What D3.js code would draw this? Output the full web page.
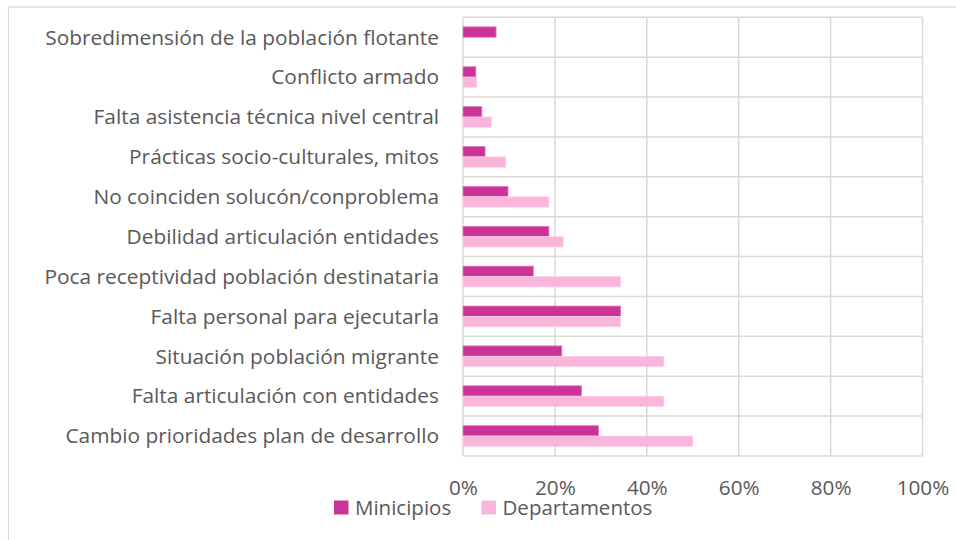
<!DOCTYPE html>
<html>
<head>
<meta charset="utf-8">
<script src="https://cdn.jsdelivr.net/npm/d3@7"></script>
<style>
  html, body { margin: 0; padding: 0; background: #ffffff; }
  svg { display: block; }
  text { font-family: "Open Sans", "Noto Sans", sans-serif; fill: #595959; }
</style>
</head>
<body>
<svg id="chart" width="956" height="540"></svg>
<script>
// Problem categories, listed top to bottom
const categories = [
  "Sobredimensión de la población flotante",
  "Conflicto armado",
  "Falta asistencia técnica nivel central",
  "Prácticas socio-culturales, mitos",
  "No coinciden solucón/conproblema",
  "Debilidad articulación entidades ",
  "Poca receptividad población destinataria",
  "Falta personal para ejecutarla",
  "Situación población migrante",
  "Falta articulación con entidades",
  "Cambio prioridades plan de desarrollo"
];

// Share of respondents per category (fraction of 1)
const municipios    = [0.072, 0.028, 0.041, 0.048, 0.098, 0.187, 0.153, 0.343, 0.215, 0.258, 0.295];
const departamentos = [0.000, 0.030, 0.062, 0.093, 0.187, 0.218, 0.343, 0.343, 0.437, 0.437, 0.500];

const seriesNames  = ["Minicipios", "Departamentos"];
const seriesColors = ["#CC3399", "#F9B5DA"];
const seriesStroke = ["#E07BBF", "#FCD3EA"];

const xTickValues = [0, 0.2, 0.4, 0.6, 0.8, 1.0];
const xTickLabels = ["0%", "20%", "40%", "60%", "80%", "100%"];

const svg = d3.select("#chart");

// Outer chart frame (runs off the right and bottom edges)
svg.append("rect")
  .attr("x", 8.5).attr("y", 7)
  .attr("width", 1100).attr("height", 700)
  .attr("fill", "none")
  .attr("stroke", "#D9D9D9")
  .attr("stroke-width", 1.2);

const plot = { left: 463, right: 922.5, top: 17.3, bottom: 456 };

const x = d3.scaleLinear().domain([0, 1]).range([plot.left, plot.right]);
const y = d3.scaleBand().domain(categories).range([plot.top, plot.bottom]).paddingInner(0);

// Two bars per category, centred in the band
const groupH = y.bandwidth() * 0.52;
const ySub = d3.scaleBand().domain(seriesNames).range([0, groupH]);

const grid = svg.append("g").attr("stroke", "#D9D9D9").attr("stroke-width", 1.5);

// Vertical gridlines at each tick
grid.selectAll("line.v").data(xTickValues).join("line")
  .attr("class", "v")
  .attr("x1", d => x(d)).attr("x2", d => x(d))
  .attr("y1", plot.top).attr("y2", plot.bottom);

// Horizontal gridlines at category boundaries
const boundaries = categories.map(c => y(c)).concat([plot.bottom]);
grid.selectAll("line.h").data(boundaries).join("line")
  .attr("class", "h")
  .attr("x1", plot.left).attr("x2", plot.right)
  .attr("y1", d => d).attr("y2", d => d);

// Bars
const rows = categories.map((c, i) => ({ cat: c, values: [municipios[i], departamentos[i]] }));
const groups = svg.append("g").selectAll("g").data(rows).join("g")
  .attr("transform", d => `translate(0,${y(d.cat) + (y.bandwidth() - groupH) / 2})`);

groups.selectAll("rect")
  .data(d => d.values.map((v, k) => ({ v, k })).filter(e => e.v > 0))
  .join("rect")
  .attr("x", x(0))
  .attr("y", e => ySub(seriesNames[e.k]))
  .attr("width", e => x(e.v) - x(0))
  .attr("height", ySub.bandwidth())
  .attr("fill", e => seriesColors[e.k])
  .attr("stroke", e => seriesStroke[e.k])
  .attr("stroke-width", 0.8);

// Fit label font size so the longest category label spans its measured width
function fitSize(str, targetWidth, family) {
  const t = svg.append("text").style("font-size", "20px").style("font-family", family).text(str);
  const w = t.node().getComputedTextLength();
  t.remove();
  return 20 * targetWidth / w;
}
const catSize = fitSize("Sobredimensión de la población flotante", 394, "Open Sans");

// Category axis labels
const yAxis = d3.axisLeft(y).tickSize(0).tickPadding(0);
const yAxisG = svg.append("g").attr("transform", `translate(${439},0)`).call(yAxis);
yAxisG.select(".domain").remove();
yAxisG.selectAll("text")
  .style("font-size", catSize + "px")
  .style("font-family", '"Open Sans", sans-serif')
  .attr("fill", "#595959")
  .attr("dy", "0.35em");

// Value axis labels
const tickSize = fitSize("100%", 52.6, "Open Sans");
const xAxis = d3.axisBottom(x).tickValues(xTickValues)
  .tickFormat((d, i) => xTickLabels[i]).tickSize(0).tickPadding(0);
const xAxisG = svg.append("g").attr("transform", `translate(0,${487.5})`).call(xAxis);
xAxisG.select(".domain").remove();
xAxisG.selectAll("text")
  .style("font-size", tickSize + "px")
  .style("font-family", '"Open Sans", sans-serif')
  .attr("fill", "#595959")
  .attr("y", 0)
  .attr("dy", "0.35em");

// Legend
const legendSize = fitSize("Departamentos", 150, "Open Sans");
const legendItems = [
  { name: seriesNames[0], sx: 334, tx: 355 },
  { name: seriesNames[1], sx: 481.5, tx: 502.5 }
];
const legend = svg.append("g");
legend.selectAll("rect").data(legendItems).join("rect")
  .attr("x", d => d.sx).attr("y", 500.5)
  .attr("width", 14.5).attr("height", 14)
  .attr("fill", (d, i) => seriesColors[i]);
legend.selectAll("text").data(legendItems).join("text")
  .attr("x", d => d.tx).attr("y", 507.5)
  .attr("dy", "0.35em")
  .style("font-size", legendSize + "px")
  .text(d => d.name);
</script>
</body>
</html>
